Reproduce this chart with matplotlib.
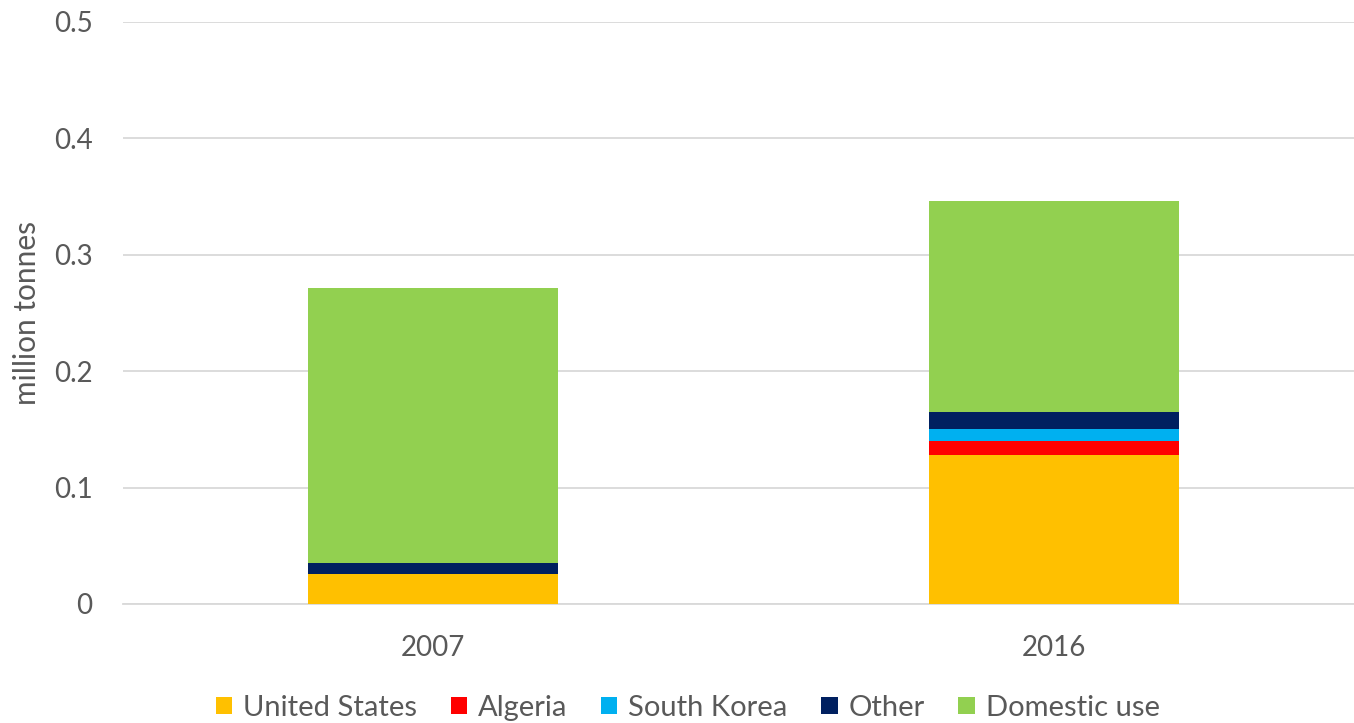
import numpy as np
import matplotlib
matplotlib.use("Agg")
import matplotlib.pyplot as plt
from matplotlib.patches import Patch

years = ["2007", "2016"]
series_names = ["United States", "Algeria", "South Korea", "Other", "Domestic use"]
united_states = [0.0255, 0.128]
algeria = [0.0, 0.012]
south_korea = [0.0, 0.010]
other = [0.010, 0.0148]
domestic_use = [0.2362, 0.181]
yticks = [0, 0.1, 0.2, 0.3, 0.4, 0.5]
ytick_labels = ["0", "0.1", "0.2", "0.3", "0.4", "0.5"]

colors = ["#FFC000", "#FF0000", "#00B0F0", "#002060", "#92D050"]
text_color = "#595959"

plt.rcParams["font.family"] = ["Lato", "DejaVu Sans"]

fig = plt.figure(figsize=(13.54, 7.23), dpi=100)
ax = fig.add_axes([0.0908, 0.1646, 0.917, 0.805])

x = np.arange(len(years))
bottom = np.zeros(len(years))
for name, vals, c in zip(series_names,
                         [united_states, algeria, south_korea, other, domestic_use],
                         colors):
    ax.bar(x, vals, width=0.403, bottom=bottom, color=c, label=name, zorder=3)
    bottom += np.array(vals)

ax.set_xlim(-0.5, 1.5)
ax.set_ylim(0, 0.5)
ax.set_yticks(yticks)
ax.set_yticklabels(ytick_labels)
ax.set_xticks(x)
ax.set_xticklabels(years)
ax.tick_params(axis="both", length=0, labelsize=20, labelcolor=text_color)
ax.tick_params(axis="y", pad=22)
ax.tick_params(axis="x", pad=22)
ax.yaxis.grid(True, color="#D9D9D9", linewidth=1.3, zorder=0)
for s in ["top", "right", "left"]:
    ax.spines[s].set_visible(False)
ax.spines["bottom"].set_color("#D9D9D9")
ax.spines["bottom"].set_linewidth(1.3)
ax.set_ylabel("million tonnes", fontsize=21.5, color=text_color, labelpad=9)

handles = [Patch(facecolor=c, label=n) for n, c in zip(series_names, colors)]
fig.legend(handles=handles, loc="center", bbox_to_anchor=(0.508, 0.021), ncol=5,
           frameon=False, fontsize=21, labelcolor=text_color,
           handlelength=0.56, handleheight=0.56, handletextpad=0.38, columnspacing=1.15)

fig.savefig("out.png", dpi=100)
